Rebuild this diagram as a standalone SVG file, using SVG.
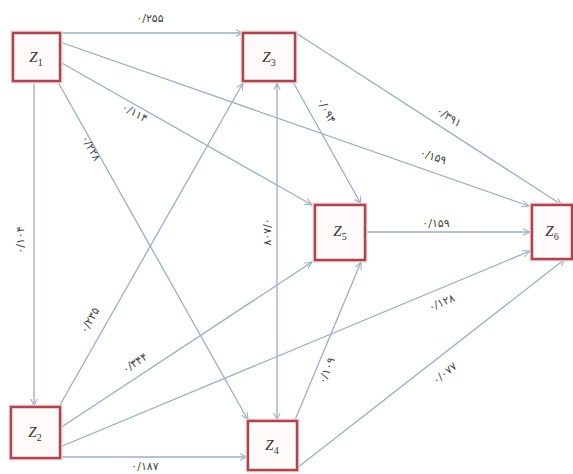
<svg xmlns="http://www.w3.org/2000/svg" width="573" height="474" viewBox="0 0 573 474">
<style>
.edge{stroke:#9aafc4;stroke-width:1.3;fill:none}
.node rect{fill:#fffafa;stroke:#a8474f;stroke-width:2.5}
.node .halo{fill:none;stroke:#f6d6d8;stroke-width:5}
.nl{font-family:"Liberation Serif",serif;font-style:italic;font-size:15px;fill:#333;text-anchor:middle}
.sub{font-size:10px;font-style:normal}
.el{font-family:"DejaVu Sans",sans-serif;font-size:11px;fill:#444;text-anchor:middle}
</style>
<defs>
<marker id="arr" viewBox="0 0 10 10" refX="9" refY="5" markerWidth="8" markerHeight="8" orient="auto-start-reverse" markerUnits="userSpaceOnUse">
<path d="M0,1 L9,5 L0,9" fill="none" stroke="#9aafc4" stroke-width="1.3"/>
</marker>
</defs>
<rect width="573" height="474" fill="#fff"/>
<g id="connectors">
<line class="edge" x1="60" y1="33" x2="243" y2="33" marker-end="url(#arr)"/>
<line class="edge" x1="60" y1="62" x2="312" y2="205" marker-end="url(#arr)"/>
<line class="edge" x1="60" y1="42" x2="529" y2="206" marker-end="url(#arr)"/>
<line class="edge" x1="58" y1="82" x2="248" y2="420" marker-end="url(#arr)"/>
<line class="edge" x1="34" y1="82" x2="34" y2="406" marker-end="url(#arr)"/>
<line class="edge" x1="293" y1="82" x2="361" y2="204" marker-end="url(#arr)"/>
<line class="edge" x1="296" y1="33" x2="562" y2="205" marker-end="url(#arr)"/>
<line class="edge" x1="366" y1="232" x2="530" y2="232" marker-end="url(#arr)"/>
<line class="edge" x1="277" y1="83" x2="277" y2="420" marker-start="url(#arr)" marker-end="url(#arr)"/>
<line class="edge" x1="60" y1="405" x2="243" y2="83" marker-end="url(#arr)"/>
<line class="edge" x1="60" y1="428" x2="312" y2="262" marker-end="url(#arr)"/>
<line class="edge" x1="60" y1="447" x2="530" y2="251" marker-end="url(#arr)"/>
<line class="edge" x1="60" y1="457" x2="247" y2="457" marker-end="url(#arr)"/>
<line class="edge" x1="295" y1="420" x2="361" y2="262" marker-end="url(#arr)"/>
<line class="edge" x1="297" y1="468" x2="565" y2="259" marker-end="url(#arr)"/>
<text class="el" x="150" y="22">۰/۲۵۵</text>
<text class="el" transform="translate(133,116) rotate(29.6)">۰/۱۱۴</text>
<text class="el" transform="translate(432,160) rotate(19.2)">۰/۱۵۹</text>
<text class="el" transform="translate(88,150) rotate(60.7)">۰/۲۲۸</text>
<text class="el" transform="translate(24,240) rotate(-90)">۰/۱۰۴</text>
<text class="el" transform="translate(323,112) rotate(61.4)">۰/۰۹۴</text>
<text class="el" transform="translate(447,120) rotate(33)">۰/۳۹۱</text>
<text class="el" x="436" y="227">۰/۱۵۹</text>
<text class="el" transform="translate(264,232) rotate(90)">۰/۸۰۷</text>
<text class="el" transform="translate(93,322) rotate(-60.5)">۰/۲۳۵</text>
<text class="el" transform="translate(137,366) rotate(-33.4)">۰/۳۴۴</text>
<text class="el" transform="translate(443,306) rotate(-22.7)">۰/۱۲۸</text>
<text class="el" x="145" y="470">۰/۱۸۷</text>
<text class="el" transform="translate(330,372) rotate(-67)">۰/۱۰۹</text>
<text class="el" transform="translate(447,376) rotate(-38)">۰/۰۷۷</text>
</g>
<g id="Z1" class="node"><rect class="halo" x="13" y="33" width="47" height="48"/><rect x="13" y="33" width="47" height="48"/><text class="nl" x="36" y="62">Z<tspan class="sub" dy="4">1</tspan></text></g>
<g id="Z3" class="node"><rect class="halo" x="243" y="33" width="52" height="48"/><rect x="243" y="33" width="52" height="48"/><text class="nl" x="269" y="62">Z<tspan class="sub" dy="4">3</tspan></text></g>
<g id="Z5" class="node"><rect class="halo" x="315" y="205" width="50" height="55"/><rect x="315" y="205" width="50" height="55"/><text class="nl" x="340" y="236">Z<tspan class="sub" dy="4">5</tspan></text></g>
<g id="Z6" class="node"><rect class="halo" x="532" y="205" width="40" height="54"/><rect x="532" y="205" width="40" height="54"/><text class="nl" x="552" y="236">Z<tspan class="sub" dy="4">6</tspan></text></g>
<g id="Z2" class="node"><rect class="halo" x="11" y="407" width="49" height="51"/><rect x="11" y="407" width="49" height="51"/><text class="nl" x="35" y="437">Z<tspan class="sub" dy="4">2</tspan></text></g>
<g id="Z4" class="node"><rect class="halo" x="248" y="421" width="49" height="49"/><rect x="248" y="421" width="49" height="49"/><text class="nl" x="272" y="450">Z<tspan class="sub" dy="4">4</tspan></text></g>
</svg>
